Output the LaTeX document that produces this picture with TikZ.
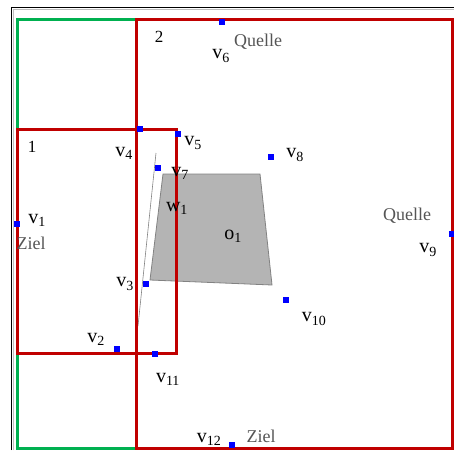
\documentclass[tikz,border=0pt]{standalone}
\usepackage{fontspec}
\setmainfont{Liberation Serif}
\usetikzlibrary{positioning}
\definecolor{regionRed}{RGB}{192,0,0}
\definecolor{regionGreen}{RGB}{0,176,80}
\definecolor{obstFill}{RGB}{180,180,180}
\definecolor{obstLine}{RGB}{130,130,130}
\definecolor{noteGray}{RGB}{85,85,85}
\tikzset{
    vtx/.style={rectangle,fill=blue,minimum size=5.5pt,inner sep=0pt},
    vlab/.style={font=\fontsize{20}{22}\selectfont,inner sep=0pt},
    note/.style={font=\fontsize{18}{20}\selectfont,text=noteGray,inner sep=0pt},
    num/.style={font=\fontsize{17}{19}\selectfont,inner sep=0pt},
    region/.style={line width=3pt},
    frame/.style={black,line width=1pt}
}

\begin{document}
\begin{tikzpicture}[x=1pt,y=-1pt]
    \useasboundingbox (0,0) rectangle (454,450);
    % outer frame
    \draw[frame] (11,450) -- (11,7) -- (454,7);
    \draw[black!25,line width=0.8pt] (13.3,450) -- (13.3,9.3) -- (454,9.3);

    % obstacle o1 and sliver w1
    \draw[fill=obstFill,draw=obstLine,line width=0.8pt] (163,174) -- (260,174) -- (272,285) -- (150,280) -- cycle;
    \coordinate (w1top) at (156,153);
    \coordinate (w1bot) at (138,326);
    \draw[obstLine,line width=0.6pt] (w1top) -- (w1bot);

    % regions
    \draw[region,regionGreen] (17,19) rectangle (136,448);
    \draw[region,regionRed] (136,19) rectangle (452,448);
    \draw[region,regionRed] (17,129) rectangle (176,353);

    % vertices
    \node[vtx] (v1)  at (17,224)  {};
    \node[vtx] (v2)  at (117,349) {};
    \node[vtx] (v3)  at (146,284) {};
    \node[vtx] (v4)  at (140,129) {};
    \node[vtx] (v5)  at (178,134) {};
    \node[vtx] (v6)  at (222,22)  {};
    \node[vtx] (v7)  at (158,168) {};
    \node[vtx] (v8)  at (271,157) {};
    \node[vtx] (v9)  at (452,234) {};
    \node[vtx] (v10) at (286,300) {};
    \node[vtx] (v11) at (155,354) {};
    \node[vtx] (v12) at (232,445) {};

    % labels
    \node[num] (n2) at (159,37)  {2};
    \node[num] (n1) at (32,147)  {1};
    \node[vlab] (l6)  at (221,56)  {v\textsubscript{6}};
    \node[vlab] (l4)  at (124,153) {v\textsubscript{4}};
    \node[vlab] (l5)  at (193,143) {v\textsubscript{5}};
    \node[vlab] (l7)  at (180,173) {v\textsubscript{7}};
    \node[vlab] (lw1) at (177,208) {w\textsubscript{1}};
    \node[vlab] (l8)  at (295,155) {v\textsubscript{8}};
    \node[vlab] (l1)  at (37,220)  {v\textsubscript{1}};
    \node[vlab] (lo1) at (233,236) {o\textsubscript{1}};
    \node[vlab] (l9)  at (428,250) {v\textsubscript{9}};
    \node[vlab] (l3)  at (125,284) {v\textsubscript{3}};
    \node[vlab] (l10) at (314,319) {v\textsubscript{10}};
    \node[vlab] (l2)  at (96,339)  {v\textsubscript{2}};
    \node[vlab] (l11) at (168,379) {v\textsubscript{11}};
    \node[vlab] (l12) at (209,439) {v\textsubscript{12}};
    \node[note] (q1) at (258,42)  {Quelle};
    \node[note] (q2) at (407,216) {Quelle};
    \node[note] (z1) at (31,243)  {Ziel};
    \node[note] (z2) at (261,436) {Ziel};
\end{tikzpicture}
\end{document}
